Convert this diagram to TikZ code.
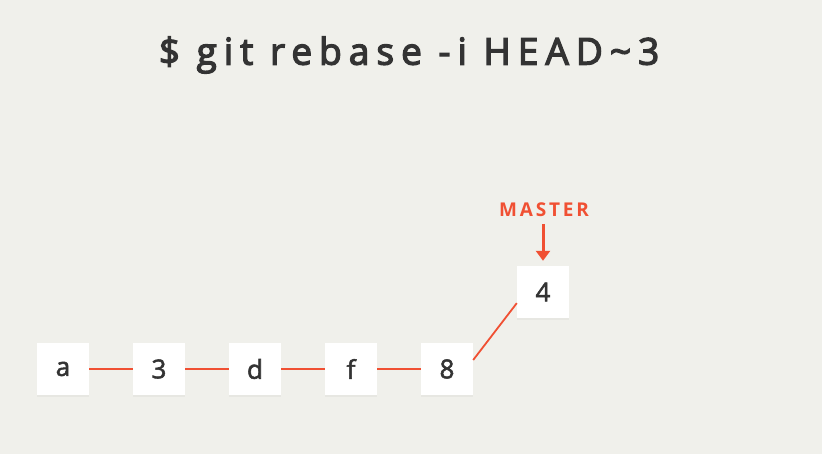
\documentclass[tikz,border=0pt]{standalone}
\usepackage{fontspec}
\setmainfont{Open Sans}
\newfontfamily\titlefont[LetterSpace=19,FakeBold=3.5]{Open Sans}
\newfontfamily\boxfont[FakeBold=2]{Open Sans}
\newfontfamily\labelfont[LetterSpace=15]{Open Sans Bold}
\usetikzlibrary{shadows,arrows.meta}
\definecolor{bg}{HTML}{F0F0EB}
\definecolor{gitred}{HTML}{F05033}
\definecolor{ink}{HTML}{333333}
\tikzset{
  commit/.style={fill=white, minimum width=52pt, minimum height=52pt, inner sep=0pt,
    text=ink, font=\boxfont\fontsize{26}{28}\selectfont,
    drop shadow={opacity=0.08, shadow xshift=0pt, shadow yshift=-2pt}},
  link/.style={draw=gitred, line width=1.8pt},
  ptr/.style={draw=gitred, line width=3pt, -{Triangle[length=10pt,width=14pt]}}
}
\begin{document}
\begin{tikzpicture}[x=1pt,y=-1pt]
\fill[bg] (0,0) rectangle (822,454);
\useasboundingbox (0,0) rectangle (822,454);
\node[text=ink, font=\titlefont\fontsize{37}{40}\selectfont] (title) at (409,55) {\$ git rebase -i HEAD\textasciitilde 3};
\node[commit] (a) at (63,369) {a};
\node[commit] (c3) at (159,369) {3};
\node[commit] (d) at (255,369) {d};
\node[commit] (f) at (351,369) {f};
\node[commit] (c8) at (447,369) {8};
\node[commit] (c4) at (543,292) {4};
\draw[link] (a) -- (c3);
\draw[link] (c3) -- (d);
\draw[link] (d) -- (f);
\draw[link] (f) -- (c8);
\draw[link] (c8.19) -- (c4.203);
\node[text=gitred, font=\labelfont\fontsize{19}{22}\selectfont] (master) at (544,210) {MASTER};
\coordinate (mtail) at (543,224);
\draw[ptr, shorten >=5pt] (mtail) -- (c4.north);
\end{tikzpicture}
\end{document}
